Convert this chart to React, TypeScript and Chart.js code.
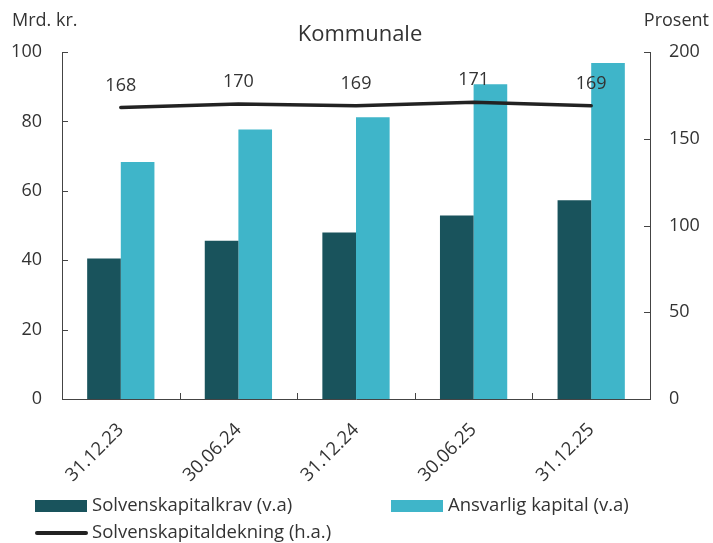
import { useEffect, useRef } from 'react';
import { Chart, registerables } from 'chart.js';

Chart.register(...registerables);

const categories = ['31.12.23', '30.06.24', '31.12.24', '30.06.25', '31.12.25'];
const solvenskapitalkrav = [40.5, 45.6, 48.0, 52.9, 57.3];
const ansvarligKapital = [68.3, 77.7, 81.2, 90.7, 96.8];
const solvenskapitaldekning = [168, 170, 169, 171, 169];
const leftAxis = { min: 0, max: 100, step: 20 };
const rightAxis = { min: 0, max: 200, step: 50 };

const chartTitle = 'Kommunale';
const leftTitle = 'Mrd. kr.';
const rightTitle = 'Prosent';
const seriesNames = ['Solvenskapitalkrav (v.a)', 'Ansvarlig kapital (v.a)', 'Solvenskapitaldekning (h.a.)'];

const DARK = '#19535c';
const LIGHT = '#3fb5c9';
const LINE = '#222222';
const TEXT = '#333333';
const AXIS = '#444444';
const FONT = "'Open Sans', sans-serif";

const decorPlugin = {
  id: 'decor',
  afterDatasetsDraw(chart: any) {
    const ctx = chart.ctx;
    const meta = chart.getDatasetMeta(2);
    ctx.save();
    ctx.fillStyle = TEXT;
    ctx.font = `18px ${FONT}`;
    ctx.textAlign = 'center';
    ctx.textBaseline = 'middle';
    meta.data.forEach((pt: any, i: number) => {
      ctx.fillText(String(solvenskapitaldekning[i]), pt.x, pt.y - 22);
    });
    ctx.restore();
  },
  afterDraw(chart: any) {
    const ctx = chart.ctx;
    const { left, right, bottom } = chart.chartArea;
    const x = chart.scales.x;
    const y = chart.scales.y;
    const y1 = chart.scales.y1;
    ctx.save();
    // inward tick marks
    ctx.strokeStyle = AXIS;
    ctx.lineWidth = 1;
    ctx.beginPath();
    y.ticks.forEach((t: any) => {
      const py = Math.round(y.getPixelForValue(t.value)) + 0.5;
      ctx.moveTo(left, py);
      ctx.lineTo(left + 6, py);
    });
    y1.ticks.forEach((t: any) => {
      const py = Math.round(y1.getPixelForValue(t.value)) + 0.5;
      ctx.moveTo(right, py);
      ctx.lineTo(right - 6, py);
    });
    for (let i = 1; i < categories.length; i++) {
      const px = Math.round((x.getPixelForTick(i - 1) + x.getPixelForTick(i)) / 2) + 0.5;
      ctx.moveTo(px, bottom);
      ctx.lineTo(px, bottom - 6);
    }
    ctx.stroke();

    // titles
    ctx.fillStyle = TEXT;
    ctx.textBaseline = 'alphabetic';
    ctx.font = `22px ${FONT}`;
    ctx.textAlign = 'center';
    ctx.fillText(chartTitle, 360, 41);
    ctx.font = `18px ${FONT}`;
    ctx.textAlign = 'left';
    ctx.fillText(leftTitle, 12, 26);
    ctx.textAlign = 'right';
    ctx.fillText(rightTitle, 709, 26);

    // legend
    ctx.textAlign = 'left';
    ctx.textBaseline = 'middle';
    ctx.font = `18.5px ${FONT}`;
    ctx.fillStyle = DARK;
    ctx.fillRect(35, 500, 52, 12);
    ctx.fillStyle = TEXT;
    ctx.fillText(seriesNames[0], 92, 506);
    ctx.fillStyle = LIGHT;
    ctx.fillRect(391, 500, 52, 12);
    ctx.fillStyle = TEXT;
    ctx.fillText(seriesNames[1], 448, 506);
    ctx.strokeStyle = LINE;
    ctx.lineWidth = 4;
    ctx.lineCap = 'round';
    ctx.beginPath();
    ctx.moveTo(37, 533);
    ctx.lineTo(86, 533);
    ctx.stroke();
    ctx.fillStyle = TEXT;
    ctx.fillText(seriesNames[2], 92, 533);
    ctx.restore();
  },
};

export default function App() {
  const ref = useRef<HTMLCanvasElement>(null);
  useEffect(() => {
    if (!ref.current) return;
    Chart.defaults.font.family = FONT;
    const chart = new Chart(ref.current, {
      type: 'bar',
      data: {
        labels: categories,
        datasets: [
          {
            type: 'bar',
            label: seriesNames[0],
            data: solvenskapitalkrav,
            backgroundColor: DARK,
            yAxisID: 'y',
            order: 2,
            categoryPercentage: 0.572,
            barPercentage: 1,
          } as any,
          {
            type: 'bar',
            label: seriesNames[1],
            data: ansvarligKapital,
            backgroundColor: LIGHT,
            yAxisID: 'y',
            order: 2,
            categoryPercentage: 0.572,
            barPercentage: 1,
          } as any,
          {
            type: 'line',
            label: seriesNames[2],
            data: solvenskapitaldekning,
            borderColor: LINE,
            borderWidth: 3.5,
            pointRadius: 0,
            borderCapStyle: 'round',
            tension: 0,
            yAxisID: 'y1',
            order: 0,
          } as any,
        ],
      },
      options: {
        responsive: false,
        animation: false,
        devicePixelRatio: 1,
        layout: { padding: { top: 52, left: 0, right: 0, bottom: 0 } },
        plugins: {
          legend: { display: false },
          title: { display: false },
          tooltip: { enabled: false },
        },
        scales: {
          x: {
            grid: { display: false, drawTicks: false, tickLength: 0 },
            border: { display: true, color: AXIS, width: 1 },
            ticks: {
              color: TEXT,
              font: { size: 18.5, family: FONT },
              minRotation: 45,
              maxRotation: 45,
              autoSkip: false,
              padding: 20,
            },
            afterFit: (s: any) => { s.height = 144; },
          },
          y: {
            position: 'left',
            min: leftAxis.min,
            max: leftAxis.max,
            grid: { display: false, drawTicks: false, tickLength: 0 },
            border: { display: true, color: AXIS, width: 1 },
            ticks: {
              stepSize: leftAxis.step,
              color: TEXT,
              font: { size: 18, family: FONT },
              padding: 20,
            },
            afterFit: (s: any) => { s.width = 62; },
          },
          y1: {
            position: 'right',
            min: rightAxis.min,
            max: rightAxis.max,
            grid: { display: false, drawTicks: false, tickLength: 0 },
            border: { display: true, color: AXIS, width: 1 },
            ticks: {
              stepSize: rightAxis.step,
              color: TEXT,
              font: { size: 18, family: FONT },
              padding: 19,
            },
            afterFit: (s: any) => { s.width = 63; },
          },
        },
      },
      plugins: [decorPlugin],
    });
    return () => chart.destroy();
  }, []);
  return (
    <div style={{ position: 'absolute', left: 0, top: 0, width: 713, height: 543 }}>
      <canvas ref={ref} width={713} height={543} />
    </div>
  );
}
